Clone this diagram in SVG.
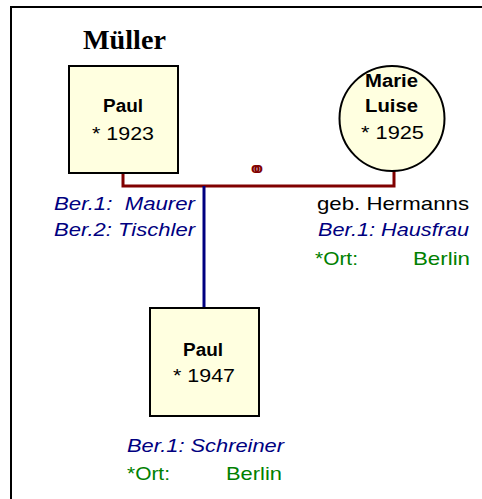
<svg xmlns="http://www.w3.org/2000/svg" width="482" height="499" viewBox="0 0 482 499">
<style>
text{font-family:"Liberation Sans",Arial,sans-serif}
.box{fill:#ffffe0;stroke:#000;stroke-width:2}
.nm{font-weight:bold;font-size:18px;fill:#000}
.yr{font-size:19px;fill:#000}
.ber{font-style:italic;font-size:19px;fill:#000080}
.ort{font-size:19px;fill:#008000}
.geb{font-size:19px;fill:#000}
.red{stroke:#800000;stroke-width:3;fill:none}
.blue{stroke:#000080;stroke-width:3;fill:none}
</style>
<rect x="11" y="7" width="480" height="500" fill="#fff" stroke="#000" stroke-width="2"/>
<text x="83" y="49" style="font-family:'Liberation Serif','Times New Roman',serif" font-weight="bold" font-size="27" textLength="83" lengthAdjust="spacingAndGlyphs">Müller</text>
<g id="connectors">
<polyline class="red" points="123,173 123,186 394,186 394,171"/>
<line class="blue" x1="204" y1="186" x2="204" y2="308"/>
<text x="251" y="172.5" font-size="15" font-weight="bold" letter-spacing="-6.5" fill="#800000">oo</text>
</g>
<g id="paul1923">
<rect class="box" x="69" y="66" width="109" height="107"/>
<text class="nm" x="103" y="112" textLength="40" lengthAdjust="spacingAndGlyphs">Paul</text>
<text class="yr" x="92" y="140" textLength="62" lengthAdjust="spacingAndGlyphs">* 1923</text>
<text class="ber" x="54" y="210" textLength="141" lengthAdjust="spacingAndGlyphs" xml:space="preserve">Ber.1:  Maurer</text>
<text class="ber" x="54" y="236" textLength="141" lengthAdjust="spacingAndGlyphs">Ber.2: Tischler</text>
</g>
<g id="marie1925">
<circle class="box" cx="392" cy="118.5" r="52.5"/>
<text class="nm" x="365" y="87" textLength="53" lengthAdjust="spacingAndGlyphs">Marie</text>
<text class="nm" x="365" y="112" textLength="53" lengthAdjust="spacingAndGlyphs">Luise</text>
<text class="yr" x="361" y="139" textLength="63" lengthAdjust="spacingAndGlyphs">* 1925</text>
<text class="geb" x="317" y="210" textLength="152" lengthAdjust="spacingAndGlyphs">geb. Hermanns</text>
<text class="ber" x="318" y="236" textLength="151" lengthAdjust="spacingAndGlyphs">Ber.1: Hausfrau</text>
<text class="ort" x="315" y="265" textLength="43" lengthAdjust="spacingAndGlyphs">*Ort:</text>
<text class="ort" x="413" y="265" textLength="57" lengthAdjust="spacingAndGlyphs">Berlin</text>
</g>
<g id="paul1947">
<rect class="box" x="150" y="308" width="109" height="108"/>
<text class="nm" x="183" y="356" textLength="40" lengthAdjust="spacingAndGlyphs">Paul</text>
<text class="yr" x="173" y="382" textLength="62" lengthAdjust="spacingAndGlyphs">* 1947</text>
<text class="ber" x="127" y="452" textLength="157" lengthAdjust="spacingAndGlyphs">Ber.1: Schreiner</text>
<text class="ort" x="127" y="480" textLength="43" lengthAdjust="spacingAndGlyphs">*Ort:</text>
<text class="ort" x="226" y="480" textLength="56" lengthAdjust="spacingAndGlyphs">Berlin</text>
</g>
</svg>
